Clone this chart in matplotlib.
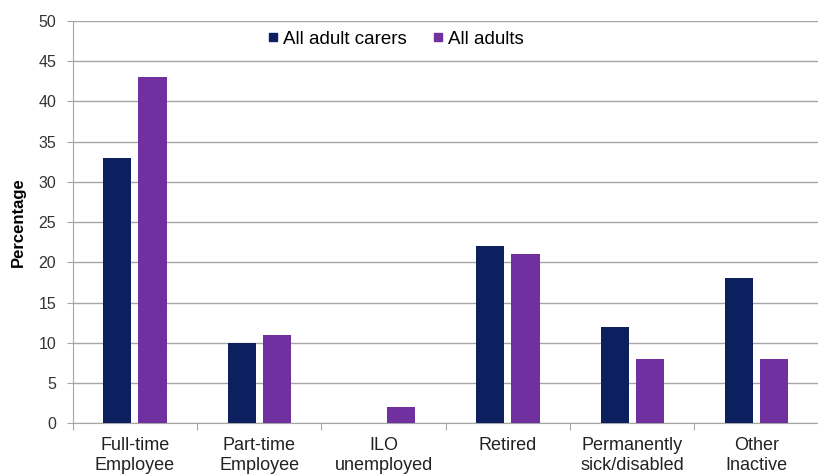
import numpy as np
import matplotlib.pyplot as plt
from matplotlib.lines import Line2D

categories = ["Full-time\nEmployee", "Part-time\nEmployee", "ILO\nunemployed",
              "Retired", "Permanently\nsick/disabled", "Other\nInactive"]
carers = [33, 10, 0, 22, 12, 18]
adults = [43, 11, 2, 21, 8, 8]
series_names = ["All adult carers", "All adults"]

NAVY = "#0c1f5f"
PURPLE = "#7030a0"
GRID = "#a6a6a6"

plt.rcParams['font.family'] = ['Liberation Sans', 'DejaVu Sans']


def main():
    fig = plt.figure(figsize=(8.18, 4.75), dpi=100)
    ax = fig.add_axes([0.089, 0.109, 0.912, 0.847])

    x = np.arange(len(categories))
    w = 0.226
    ax.bar(x - 0.141, carers, w, color=NAVY, zorder=3)
    ax.bar(x + 0.141, adults, w, color=PURPLE, zorder=3)

    ax.set_xlim(-0.5, len(categories) - 0.5)
    ax.set_ylim(0, 50)
    ax.set_yticks(np.arange(0, 51, 5))
    ax.yaxis.grid(True, color=GRID, linewidth=1.0, zorder=0)
    ax.tick_params(axis='y', labelsize=11.5, length=4, color=GRID, pad=8,
                   labelcolor="#333333")

    # category labels between boundary tick marks
    ax.set_xticks(np.arange(len(categories) + 1) - 0.5)
    ax.set_xticklabels([])
    ax.set_xticks(x, minor=True)
    ax.set_xticklabels(categories, minor=True, fontsize=13, color="#222222",
                       linespacing=1.2)
    ax.tick_params(axis='x', which='major', length=5, color=GRID, direction='out')
    ax.tick_params(axis='x', which='minor', length=0, pad=10)

    for side in ['top', 'right']:
        ax.spines[side].set_visible(False)
    for side in ['left', 'bottom']:
        ax.spines[side].set_color(GRID)

    ax.set_ylabel("Percentage", fontsize=12, fontweight='bold', labelpad=9)

    handles = [Line2D([], [], marker='s', linestyle='none', markersize=6,
                      color=c) for c in (NAVY, PURPLE)]
    ax.legend(handles, series_names, loc='center', bbox_to_anchor=(0.43, 0.955),
              ncol=2, frameon=False, fontsize=13.5, handletextpad=0.0,
              columnspacing=1.2, handlelength=1.0)

    fig.savefig("out.png", dpi=100, facecolor="white")


if __name__ == "__main__":
    main()
